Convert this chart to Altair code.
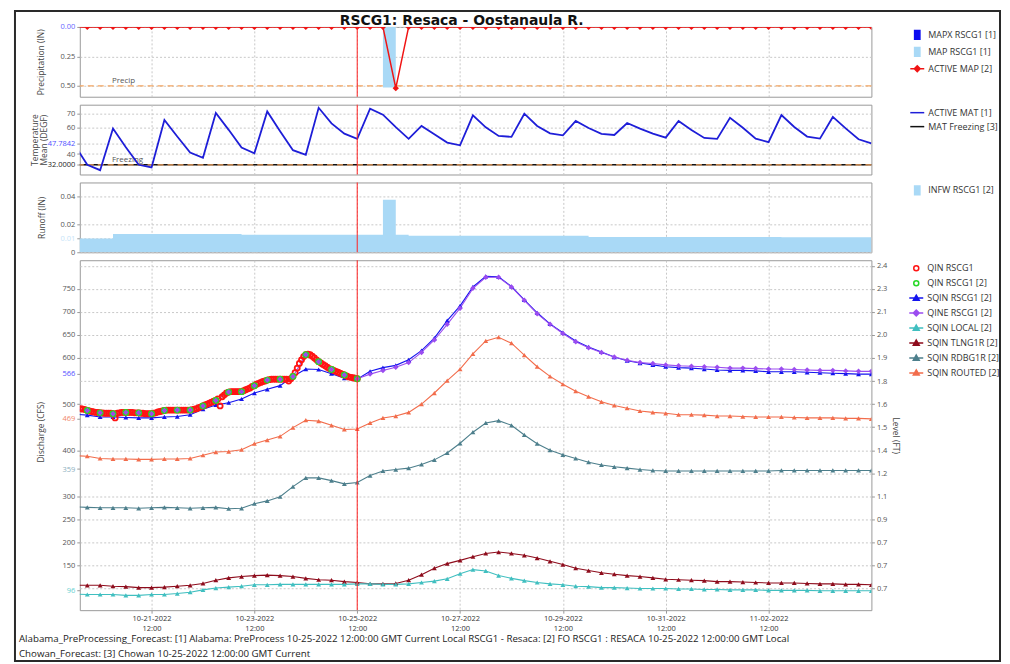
import json
import altair as alt
import pandas as pd

H = 3600 * 1000


def utc_ms(s):
    return int(pd.Timestamp(s, tz="UTC").value // 1_000_000)


TITLE = "RSCG1: Resaca - Oostanaula R."
FOOTER = [
    "Alabama_PreProcessing_Forecast: [1] Alabama: PreProcess 10-25-2022 12:00:00 GMT Current Local RSCG1 - Resaca: [2] FO RSCG1 : RESACA 10-25-2022 12:00:00 GMT Local",
    "Chowan_Forecast: [3] Chowan 10-25-2022 12:00:00 GMT Current",
]

X_START = "2022-10-20 02:30"
X_END = "2022-11-04 12:00"
NOW = "2022-10-25 12:00"
X_TICKS = ["2022-10-21 12:00", "2022-10-23 12:00", "2022-10-25 12:00", "2022-10-27 12:00",
           "2022-10-29 12:00", "2022-10-31 12:00", "2022-11-02 12:00"]
SIX_H_START = "2022-10-20 00:00"   # 6-hourly series
OBS_START = "2022-10-20 03:00"     # hourly observed QIN
QIN2_START = "2022-10-20 06:00"    # 6-hourly QIN [2]

# ---------------- precipitation (IN) ----------------
active_map = [
    0, 0, 0, 0,      # 10-20
    0, 0, 0, 0,      # 10-21
    0, 0, 0, 0,      # 10-22
    0, 0, 0, 0,      # 10-23
    0, 0, 0, 0,      # 10-24
    0, 0, 0, 0,      # 10-25
    0, 0.52, 0, 0,   # 10-26
    0, 0, 0, 0,      # 10-27
    0, 0, 0, 0,      # 10-28
    0, 0, 0, 0,      # 10-29
    0, 0, 0, 0,      # 10-30
    0, 0, 0, 0,      # 10-31
    0, 0, 0, 0,      # 11-01
    0, 0, 0, 0,      # 11-02
    0, 0, 0, 0,      # 11-03
    0, 0, 0,         # 11-04
]
map_bar_start = ["2022-10-26 00:00"]
map_bar_end = ["2022-10-26 06:00"]
map_bar_value = [0.515]
precip_guide_value = [0.5]
precip_guide_label = ["Precip"]
precip_label_at = ["2022-10-20 17:30"]

# ---------------- temperature (DEGF) ----------------
active_mat = [
    47, 32, 28, 59,          # 10-20
    45, 32, 30, 65.3,        # 10-21
    53, 41.1, 37.2, 70.5,    # 10-22
    58, 44.8, 40.6, 71.7,    # 10-23
    57, 42.9, 39.4, 74.4,    # 10-24
    62.8, 55.2, 51.3, 73.7,  # 10-25
    69.3, 60, 51.3, 60.9,    # 10-26
    54.7, 48.5, 46.5, 68.8,  # 10-27
    59.9, 53.5, 52.8, 70.0,  # 10-28
    60.9, 55.4, 53.9, 64.6,  # 10-29
    59.4, 55.0, 54.2, 63.1,  # 10-30
    58.9, 55.2, 52.2, 64.6,  # 10-31
    57.9, 52.0, 51.3, 67.0,  # 11-01
    59.6, 51.5, 48.8, 69.0,  # 11-02
    60.1, 53.0, 51.5, 67.6,  # 11-03
    59.1, 51.0, 48.0,        # 11-04
]
freezing_value = [32]
freezing_label = ["Freezing"]
freezing_label_at = ["2022-10-20 17:30"]

# ---------------- runoff (IN), step values ----------------
infw_time = ["2022-10-20 00:00", "2022-10-20 18:00", "2022-10-23 06:00", "2022-10-26 00:00",
             "2022-10-26 06:00", "2022-10-26 12:00", "2022-10-30 00:00", "2022-11-02 18:00",
             "2022-11-04 12:00"]
infw_value = [0.0098, 0.0130, 0.0124, 0.0374, 0.0124, 0.0117, 0.0109, 0.0106, 0.0106]

# ---------------- discharge (CFS) ----------------
qin_obs = [
    490, 489, 488, 486, 485, 484, 483, 482, 482, 481,
    481, 480, 480, 480, 480, 479, 470, 480, 481, 482, 482, 482,
    482, 482, 482, 481, 481, 481, 480, 480, 479, 479, 479, 479,
    480, 481, 483, 484, 485, 486, 487, 487, 487, 487, 487, 487,
    487, 487, 487, 487, 487, 487, 488, 489, 490, 492, 494, 496,
    498, 500, 502, 504, 506, 508, 511, 496, 516, 520, 524, 526,
    527, 527, 527, 527, 527, 527, 529, 531, 533, 535, 538, 540,
    543, 545, 547, 549, 550, 552, 553, 554, 554, 554, 554, 554,
    554, 554, 554, 550, 555, 560, 568, 578, 588, 596, 603, 607,
    608, 607, 604, 600, 596, 592, 589, 586, 583, 580, 577, 575,
    573, 571, 569, 567, 565, 563, 561, 559, 558, 557, 556, 555,
]
qin_obs2 = [486, 481, 479, 482, 481, 479, 486, 487, 487, 496, 508, 526,
            527, 540, 552, 554, 560, 607, 592, 575, 563, 555]

sqin_rscg1 = [
    478, 476, 472, 472, 471, 470, 470, 472, 473, 477, 489, 498,
    503, 511, 524, 532, 540, 560, 576, 575, 566, 556, 554, 571,
    579, 584, 596, 616, 643, 681, 713, 754, 777, 776, 755, 726,
    698, 674, 655, 637, 624, 613, 602, 594, 589, 585, 581, 579,
    578, 576, 574, 573, 573, 572, 570, 570, 570, 569, 568, 567,
    566, 565, 565,
]
qine_rscg1 = [
    491, 486, 481, 479, 482, 481, 479, 486, 487, 487, 496, 508,
    526, 527, 540, 552, 554, 560, 607, 592, 575, 563, 555, 565,
    573, 580, 590, 612, 639, 673, 708, 751, 775, 775, 754, 725,
    696, 673, 653, 635, 622, 612, 602, 595, 590, 588, 585, 583,
    582, 581, 580, 578, 578, 577, 576, 576, 575, 574, 573, 573,
    572, 571, 571,
]
sqin_local = [
    88, 87, 87, 87, 85, 85, 87, 87, 89, 92, 97, 101,
    103, 105, 108, 108, 109, 109, 109, 109, 109, 109, 110, 110,
    109, 109, 110, 113, 116, 121, 132, 141, 138, 128, 122, 117,
    113, 110, 108, 105, 104, 102, 102, 101, 100, 100, 100, 99,
    99, 98, 98, 97, 97, 97, 96, 96, 96, 96, 95, 95,
    95, 95, 95,
]
sqin_tlng1r = [
    107, 107, 107, 105, 104, 102, 102, 103, 105, 107, 111, 118,
    123, 126, 128, 129, 128, 126, 122, 119, 118, 115, 113, 110,
    110, 111, 118, 130, 144, 154, 161, 169, 176, 179, 176, 172,
    166, 159, 152, 144, 139, 134, 131, 128, 126, 123, 120, 119,
    118, 117, 115, 115, 114, 113, 112, 112, 112, 111, 110, 110,
    109, 109, 108,
]
sqin_rdbg1r = [
    277, 276, 275, 275, 275, 274, 275, 276, 275, 274, 275, 276,
    273, 274, 284, 290, 299, 321, 340, 340, 334, 327, 330, 345,
    355, 358, 361, 369, 379, 394, 415, 439, 459, 464, 454, 433,
    414, 400, 390, 382, 374, 368, 364, 361, 358, 356, 355, 355,
    355, 355, 355, 355, 355, 355, 355, 356, 356, 356, 356, 356,
    356, 356, 356,
]
sqin_routed = [
    388, 387, 382, 381, 381, 380, 380, 381, 381, 382, 389, 396,
    397, 401, 414, 422, 430, 449, 465, 463, 454, 445, 446, 459,
    470, 474, 482, 500, 524, 551, 576, 609, 637, 645, 632, 606,
    581, 560, 543, 528, 516, 505, 497, 491, 485, 482, 480, 477,
    477, 476, 474, 474, 473, 472, 472, 472, 471, 470, 470, 470,
    469, 469, 468,
]

q_left_ticks = [96, 150, 200, 250, 300, 359, 400, 469, 500, 566, 600, 650, 700, 750]
level_ticks = [100, 150, 200, 250, 300, 350, 400, 450, 500, 550, 600, 650, 700, 750, 800]
level_labels = ["0.7", "0.7", "0.7", "0.9", "1.1", "1.2", "1.4", "1.5", "1.6", "1.8",
                "1.9", "2.0", "2.1", "2.3", "2.4"]

# ---------------- styles ----------------
FONT = "Open Sans"
GRID = "#c8c8c8"
C_MAPX = "#0b0bf0"
C_MAP = "#a9d9f6"
C_ACTIVE_MAP = "#f01414"
C_MAT = "#1e1ed8"
C_FREEZE = "#111111"
C_GUIDE = "#f4a561"
C_NOW = "#ff2020"
C_OBS = "#ff1414"
C_OBS2 = "#26d926"
C_SQIN = "#1414ee"
C_QINE = "#9b4cf0"
C_LOCAL = "#40bfc0"
C_TLNG = "#8e0c1c"
C_RDBG = "#4d7f8c"
C_ROUTED = "#f26d4c"
C_FRAME = "#2a2a2a"

S_RECT = "M-0.38,-0.62H0.38V0.62H-0.38Z"
S_LINE = "M-1,0H1"
S_LDIA = "M-1,0H1M0,-0.42L0.42,0L0,0.42L-0.42,0Z"
S_LTRI = "M-1,0H1M0,-0.42L0.42,0.32H-0.42Z"
S_CIRC = "M0.36,0A0.36,0.36,0,1,1,-0.36,0A0.36,0.36,0,1,1,0.36,0Z"

W = 794
SPACING = 8
PANEL_H = [70, 70, 70, 351]
XDOM = [utc_ms(X_START), utc_ms(X_END)]
XTICKS = [utc_ms(s) for s in X_TICKS]
T_NOW = utc_ms(NOW)


def x_enc(show_labels=False, field="t"):
    if show_labels:
        ax = alt.Axis(values=XTICKS, title=None, grid=True, gridDash=[2, 2], gridColor=GRID,
                      domain=False, tickSize=3, tickColor="#999", labelFontSize=7.5,
                      labelColor="#333", labelPadding=1, labelLineHeight=10,
                      labelExpr="[utcFormat(datum.value, '%m-%d-%Y'), utcFormat(datum.value, '%H:%M')]")
    else:
        ax = alt.Axis(values=XTICKS, title=None, grid=True, gridDash=[2, 2], gridColor=GRID,
                      domain=False, ticks=False, labels=False)
    return alt.X(f"{field}:T", scale=alt.Scale(type="utc", domain=XDOM, nice=False), axis=ax)


def color_cond(pairs, default="#555555"):
    return {"condition": [{"test": f"abs(datum.value - {v}) < 1e-6", "value": c} for v, c in pairs],
            "value": default}


def legend_layer(key, names, fills, strokes, shapes, offset, y=None):
    leg = alt.Legend(title=None, orient="right", offset=offset, symbolSize=196,
                     labelFont=FONT, labelFontSize=9, labelColor="#333",
                     symbolStrokeWidth=1.5, rowPadding=1, labelOffset=3, padding=0)
    f = f"{key}:N"
    enc = dict(
        fill=alt.Fill(f, scale=alt.Scale(domain=names, range=fills), legend=leg),
        stroke=alt.Stroke(f, scale=alt.Scale(domain=names, range=strokes), legend=leg),
        shape=alt.Shape(f, scale=alt.Scale(domain=names, range=shapes), legend=leg),
    )
    if y is not None:
        enc["y"] = y
    return (alt.Chart(pd.DataFrame({key: names}))
            .transform_filter("false")
            .mark_point(opacity=1, strokeWidth=1.5)
            .encode(**enc))


def now_rule(show_labels=False):
    return alt.Chart(pd.DataFrame({"t": [T_NOW]})).mark_rule(
        color=C_NOW, strokeWidth=1).encode(x=x_enc(show_labels))


def y_title(title, x, y):
    return dict(title=title, titleX=x, titleY=y, titleBaseline="middle", titleAlign="center",
                titleFontSize=8.5)


t6 = [utc_ms(SIX_H_START) + i * 6 * H for i in range(len(active_map))]

# ================= panel 1: precipitation =================
yP = alt.Y("v:Q", scale=alt.Scale(domain=[0, 0.593], reverse=True, nice=False, zero=False),
           axis=alt.Axis(values=[0, 0.25, 0.5], format=".2f",
                         grid=True, gridDash=[2, 2], gridColor=GRID, domain=False, tickSize=3,
                         tickColor="#999", labelColor=color_cond([(0, "#6666ff")]),
                         **y_title("Precipitation (IN)", -39, 35)))
df_map = pd.DataFrame({"t": t6, "v": active_map})
df_bar = pd.DataFrame({"t": [utc_ms(s) for s in map_bar_start],
                       "t2": [utc_ms(s) for s in map_bar_end], "v": map_bar_value})
df_pg = pd.DataFrame({"t": [utc_ms(s) for s in precip_label_at], "v": precip_guide_value,
                      "txt": precip_guide_label})

p_guide = alt.Chart(df_pg).mark_rule(color=C_GUIDE, strokeDash=[6, 4], strokeWidth=1.3).encode(y=yP)
p_label = alt.Chart(df_pg).mark_text(align="left", baseline="bottom", dy=-1, fontSize=8,
                                     color="#555", font=FONT).encode(x=x_enc(), y=yP, text="txt:N")
p_bar = alt.Chart(df_bar).mark_rect(color=C_MAP, clip=True).encode(
    x=x_enc(), x2="t2:T", y=yP, y2=alt.datum(0))
p_line = alt.Chart(df_map).mark_line(color=C_ACTIVE_MAP, strokeWidth=1.5, clip=True).encode(x=x_enc(), y=yP)
p_pts = alt.Chart(df_map).mark_point(shape="diamond", filled=True, size=40, opacity=1,
                                     color=C_ACTIVE_MAP, clip=True).encode(x=x_enc(), y=yP)
p_leg = legend_layer("sp", ["MAPX RSCG1 [1]", "MAP RSCG1 [1]", "ACTIVE MAP [2]"],
                     [C_MAPX, C_MAP, C_ACTIVE_MAP], [C_MAPX, C_MAP, C_ACTIVE_MAP],
                     [S_RECT, S_RECT, S_LDIA], offset=38)
precip = alt.layer(p_guide, p_bar, p_label, p_line, p_pts, now_rule(), p_leg).properties(
    width=W, height=PANEL_H[0],
    title=alt.TitleParams(TITLE, anchor="middle", frame="group", fontSize=14, font="DejaVu Sans",
                          fontWeight="bold", color="#111", offset=-5, dx=-14),
)

# ================= panel 2: temperature =================
yT = alt.Y("v:Q", scale=alt.Scale(domain=[24.8, 76.7], nice=False, zero=False),
           axis=alt.Axis(values=[32, 40, 47.7842, 60, 70],
                         grid=True, gridDash=[2, 2], gridColor=GRID, domain=False, tickSize=3,
                         tickColor="#999",
                         labelExpr="datum.value == 32 ? '32.0000' : (abs(datum.value - 47.7842) < 0.001 ? '47.7842' : format(datum.value, 'd'))",
                         labelColor=color_cond([(47.7842, "#4f4fff"), (32, "#222222")]),
                         titleLineHeight=9,
                         **y_title(["Temperature", "Mean (DEGF)"], -45, 35)))
df_mat = pd.DataFrame({"t": t6, "v": active_mat})
df_fz = pd.DataFrame({"t": [utc_ms(s) for s in freezing_label_at], "v": freezing_value,
                      "txt": freezing_label})
t_fz = alt.Chart(df_fz).mark_rule(color=C_FREEZE, strokeWidth=1.4).encode(y=yT)
t_guide = alt.Chart(df_fz).mark_rule(color=C_GUIDE, strokeDash=[6, 4], strokeWidth=1.2).encode(y=yT)
t_label = alt.Chart(df_fz).mark_text(align="left", baseline="bottom", dy=-1, fontSize=8,
                                     color="#555", font=FONT).encode(x=x_enc(), y=yT, text="txt:N")
t_line = alt.Chart(df_mat).mark_line(color=C_MAT, strokeWidth=1.8, clip=True).encode(x=x_enc(), y=yT)
t_leg = legend_layer("st", ["ACTIVE MAT [1]", "MAT Freezing [3]"], ["transparent", "transparent"],
                     [C_MAT, C_FREEZE], [S_LINE, S_LINE], offset=38)
temp = alt.layer(t_fz, t_guide, t_label, t_line, now_rule(), t_leg).properties(width=W, height=PANEL_H[1])

# ================= panel 3: runoff =================
yR = alt.Y("v:Q", scale=alt.Scale(domain=[0, 0.0497], nice=False, zero=False),
           axis=alt.Axis(values=[0, 0.01, 0.02, 0.04],
                         grid=True, gridDash=[2, 2], gridColor=GRID, domain=False, tickSize=3,
                         tickColor="#999",
                         labelExpr="datum.value == 0 ? '0' : format(datum.value, '.2f')",
                         labelColor=color_cond([(0.01, "#c6e4f8")]),
                         **y_title("Runoff (IN)", -38, 35)))
df_infw = pd.DataFrame({"t": [utc_ms(s) for s in infw_time], "v": infw_value})
r_area = alt.Chart(df_infw).mark_area(color=C_MAP, opacity=1, interpolate="step-after",
                                      clip=True).encode(x=x_enc(), y=yR)
r_leg = legend_layer("sr", ["INFW RSCG1 [2]"], [C_MAP], [C_MAP], [S_RECT], offset=38)
runoff = alt.layer(r_area, now_rule(), r_leg).properties(width=W, height=PANEL_H[2])

# ================= panel 4: discharge =================
QDOM = [53, 812]
yQ = alt.Y("v:Q", scale=alt.Scale(domain=QDOM, nice=False, zero=False),
           axis=alt.Axis(values=q_left_ticks, grid=False, domain=False,
                         tickSize=3, tickColor="#999",
                         labelColor=color_cond([(566, "#5050ff"), (469, "#f0886a"),
                                                (359, "#8db0c0"), (96, "#66d0d0")]),
                         **y_title("Discharge (CFS)", -39, 172)))
yLevel = alt.Y("lv:Q", scale=alt.Scale(domain=QDOM, nice=False, zero=False),
               axis=alt.Axis(orient="right", values=level_ticks, title="Level (FT)",
                             labelExpr=f"{json.dumps(level_labels)}[round((datum.value - 100) / 50)]",
                             grid=True, gridDash=[2, 2], gridColor=GRID, domain=False, tickSize=3,
                             tickColor="#999", titleFontSize=8.5, titlePadding=4))

FC_NAMES = ["SQIN ROUTED [2]", "SQIN RDBG1R [2]", "SQIN TLNG1R [2]", "SQIN LOCAL [2]",
            "SQIN RSCG1 [2]", "QINE RSCG1 [2]"]
FC_VALUES = [sqin_routed, sqin_rdbg1r, sqin_tlng1r, sqin_local, sqin_rscg1, qine_rscg1]
FC_COLORS = [C_ROUTED, C_RDBG, C_TLNG, C_LOCAL, C_SQIN, C_QINE]
df_fc = pd.concat([pd.DataFrame({"t": t6, "v": vals, "s": name})
                   for name, vals in zip(FC_NAMES, FC_VALUES)], ignore_index=True)
fc_color = alt.Color("s:N", scale=alt.Scale(domain=FC_NAMES, range=FC_COLORS), legend=None)

df_obs = pd.DataFrame({"t": [utc_ms(OBS_START) + i * H for i in range(len(qin_obs))], "v": qin_obs})
df_obs2 = pd.DataFrame({"t": [utc_ms(QIN2_START) + i * 6 * H for i in range(len(qin_obs2))], "v": qin_obs2})

q_lines = alt.Chart(df_fc).mark_line(strokeWidth=1.1, clip=True).encode(
    x=x_enc(True), y=yQ, color=fc_color, detail="s:N")
q_tri = alt.Chart(df_fc).transform_filter(
    alt.FieldOneOfPredicate(field="s", oneOf=FC_NAMES[:5])
).mark_point(shape="triangle-up", filled=True, size=24, opacity=1, clip=True).encode(
    x=x_enc(True), y=yQ, color=fc_color)
q_obs = alt.Chart(df_obs).mark_point(shape="circle", filled=False, size=26, strokeWidth=1.8,
                                     opacity=1, color=C_OBS, clip=True).encode(x=x_enc(True), y=yQ)
q_obs2 = alt.Chart(df_obs2).mark_point(shape="circle", filled=False, size=26, strokeWidth=1.8,
                                       opacity=1, color=C_OBS2, clip=True).encode(x=x_enc(True), y=yQ)
q_qine = alt.Chart(df_fc).transform_filter(
    alt.FieldEqualPredicate(field="s", equal="QINE RSCG1 [2]")
).mark_point(shape="diamond", filled=True, size=30, opacity=1, clip=True).encode(
    x=x_enc(True), y=yQ, color=fc_color)

left_group = alt.layer(q_lines, q_tri, q_obs, q_obs2, q_qine, now_rule(True))

Q_LEG_NAMES = ["QIN RSCG1", "QIN RSCG1 [2]", "SQIN RSCG1 [2]", "QINE RSCG1 [2]", "SQIN LOCAL [2]",
               "SQIN TLNG1R [2]", "SQIN RDBG1R [2]", "SQIN ROUTED [2]"]
Q_LEG_STROKES = [C_OBS, C_OBS2, C_SQIN, C_QINE, C_LOCAL, C_TLNG, C_RDBG, C_ROUTED]
Q_LEG_FILLS = ["transparent", "transparent", C_SQIN, C_QINE, C_LOCAL, C_TLNG, C_RDBG, C_ROUTED]
Q_LEG_SHAPES = [S_CIRC, S_CIRC, S_LTRI, S_LDIA, S_LTRI, S_LTRI, S_LTRI, S_LTRI]
q_leg = legend_layer("sq", Q_LEG_NAMES, Q_LEG_FILLS, Q_LEG_STROKES, Q_LEG_SHAPES, offset=8, y=yLevel)

discharge = alt.layer(left_group, q_leg).resolve_scale(y="independent").properties(
    width=W, height=PANEL_H[3],
    title=alt.TitleParams(FOOTER, orient="bottom", anchor="start", frame="group", dx=-61,
                          fontSize=9.75, font=FONT, fontWeight="normal", color="#222",
                          lineHeight=15, offset=2),
)

# ================= outer frame (decoration, in its own empty cell below the panels) =================
FRAME_TOP = -(sum(PANEL_H) + SPACING * len(PANEL_H)) - 16
frame = alt.Chart(pd.DataFrame({"frame": [1]})).mark_rect(
    filled=False, stroke=C_FRAME, strokeWidth=2
).encode(
    x=alt.value(-65), x2=alt.value(923), y=alt.value(FRAME_TOP), y2=alt.value(43)
).properties(width=W, height=1, view=alt.ViewBackground(stroke="transparent"))

chart = alt.vconcat(precip, temp, runoff, discharge, frame, spacing=SPACING, bounds="flush").resolve_scale(
    fill="independent", stroke="independent", shape="independent", color="independent"
).resolve_legend(
    fill="independent", stroke="independent", shape="independent", color="independent"
).properties(
    padding={"left": 5, "top": 0, "right": 0, "bottom": 0},
).configure_view(stroke="#9a9a9a", strokeWidth=1).configure_axis(
    labelFont=FONT, titleFont=FONT, labelFontSize=7.5, titleFontSize=8.5,
    titleFontWeight="normal", titleColor="#444", labelColor="#555",
)

chart.save("out.html", embed_options={"renderer": "svg", "actions": False})
